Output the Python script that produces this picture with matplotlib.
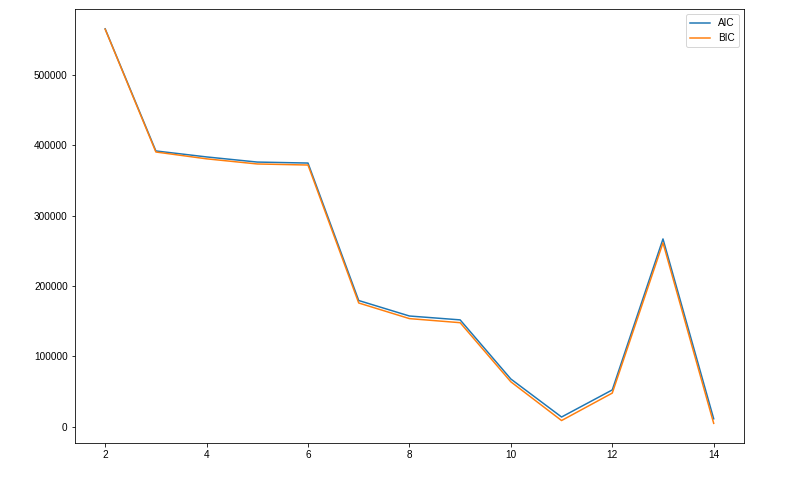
import matplotlib
matplotlib.use("Agg")
import matplotlib.pyplot as plt

plt.rcParams['font.family'] = ['Liberation Sans', 'DejaVu Sans']

# number of components vs information criteria
n_components = [2, 3, 4, 5, 6, 7, 8, 9, 10, 11, 12, 13, 14]
aic = [565500, 392000, 383500, 376200, 374800, 179500, 157500, 152000,
       68000, 14000, 52500, 267000, 11500]
bic = [565000, 390500, 380800, 373500, 372000, 176000, 153800, 148000,
       64000, 9000, 48000, 261500, 5000]

fig = plt.figure(figsize=(795 / 72, 479 / 72), dpi=72)
ax = fig.add_axes([0.094, 0.075, 0.842, 0.906])
ax.plot(n_components, aic, label="AIC")
ax.plot(n_components, bic, label="BIC")
ax.legend()

fig.savefig("out.png", dpi=72)
